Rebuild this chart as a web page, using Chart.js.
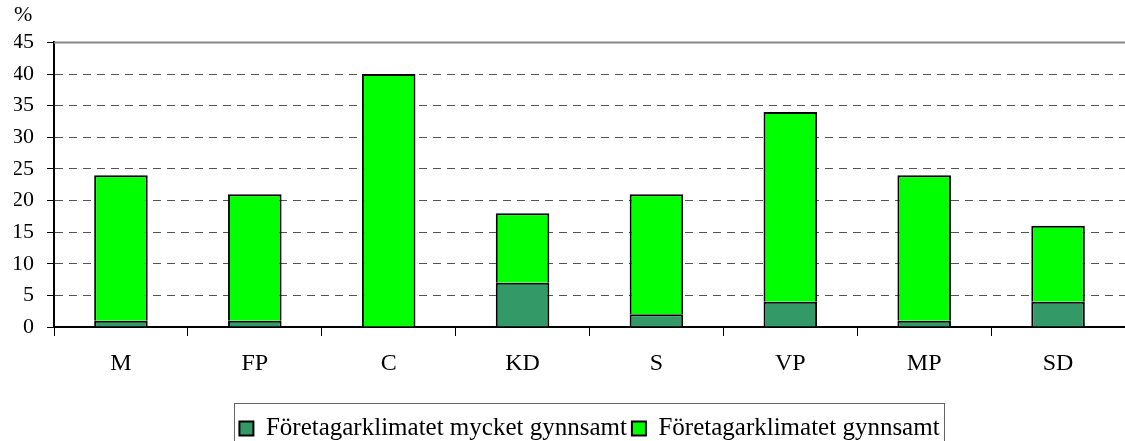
<!DOCTYPE html>
<html lang="sv">
<head>
<meta charset="utf-8">
<title>Företagarklimatet</title>
<script src="https://cdn.jsdelivr.net/npm/chart.js@4.4.1/dist/chart.umd.min.js"></script>
<style>
  html, body { margin: 0; padding: 0; background: #fff; }
  #wrap { width: 1125px; height: 441px; }
</style>
</head>
<body>
<div id="wrap"><canvas id="c"></canvas></div>
<script>
// data
var parties = ["M", "FP", "C", "KD", "S", "VP", "MP", "SD"];
var mycketGynnsamt = [1, 1, 0, 7, 2, 4, 1, 4];
var gynnsamt = [23, 20, 40, 11, 19, 30, 23, 12];
var seriesNames = ["Företagarklimatet mycket gynnsamt", "Företagarklimatet gynnsamt"];

var FONT = "'Liberation Serif', 'Times New Roman', serif";
Chart.defaults.font.family = FONT;
Chart.defaults.font.size = 22;
Chart.defaults.color = "#000";

// solid line on top of plot + frame round the legend
var extras = {
	id: "extras",
	afterDraw: function(chart){
		var ctx = chart.ctx, a = chart.chartArea;
		ctx.save();
		ctx.strokeStyle = "#888";
		ctx.lineWidth = 2;
		ctx.beginPath();
		ctx.moveTo(a.left, a.top);
		ctx.lineTo(a.right, a.top);
		ctx.stroke();

		var hb = chart.legend.legendHitBoxes;
		if(hb && hb.length){
			var l = hb[0].left, r = hb[hb.length - 1].left + hb[hb.length - 1].width;
			var t = hb[0].top, h = hb[0].height;
			ctx.strokeStyle = "#666";
			ctx.lineWidth = 1;
			ctx.strokeRect(Math.round(l - 5) + 0.5, Math.round(t - 13) + 0.5, Math.round(r - l + 10), Math.round(h + 30));
		}
		ctx.restore();
	}
};

new Chart(document.getElementById("c"), {
	type: "bar",
	data: {
		labels: parties,
		datasets: [
			{label: seriesNames[0], data: mycketGynnsamt, backgroundColor: "#339966", borderColor: "#000", borderWidth: 2},
			{label: seriesNames[1], data: gynnsamt, backgroundColor: "#00ff00", borderColor: "#000", borderWidth: 2}
		]
	},
	plugins: [extras],
	options: {
		responsive: true,
		maintainAspectRatio: false,
		animation: false,
		datasets: {bar: {categoryPercentage: 1, barPercentage: 0.4}},
		layout: {padding: {left: 14, right: 0, top: 2, bottom: -10}},
		plugins: {
			title: {display: true, text: "%", align: "start",
				font: {size: 22, weight: "normal"}, padding: {top: 0, bottom: 14}},
			legend: {
				position: "bottom",
				fullSize: false,
				labels: {font: {size: 25}, boxWidth: 14, boxHeight: 14, padding: 5}
			},
			tooltip: {enabled: false}
		},
		scales: {
			x: {
				stacked: true,
				afterFit: function(s){ s.height = 84; },
				grid: {offset: true, drawOnChartArea: false, drawTicks: true, tickLength: 9, tickColor: "#000", tickWidth: 1},
				border: {color: "#000", width: 2},
				ticks: {font: {size: 24}, padding: 13}
			},
			y: {
				stacked: true,
				min: 0, max: 45,
				afterFit: function(s){ s.width = 40; },
				ticks: {stepSize: 5, font: {size: 22}, padding: 13},
				grid: {
					color: function(c){ return (c.tick.value === 0 || c.tick.value === 45) ? "rgba(0,0,0,0)" : "#555"; },
					tickColor: "#000", tickLength: 7, tickWidth: 1, tickBorderDash: []
				},
				border: {color: "#000", width: 2, dash: [8, 6]}
			}
		}
	}
});
</script>
</body>
</html>
